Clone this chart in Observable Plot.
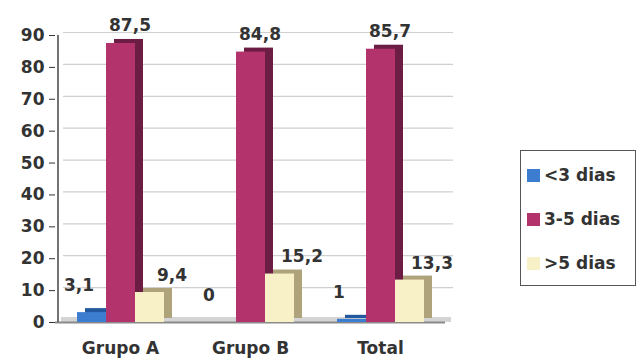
<!DOCTYPE html>
<html>
<head>
<meta charset="utf-8">
<script src="https://cdn.jsdelivr.net/npm/d3@7"></script>
<script src="https://cdn.jsdelivr.net/npm/@observablehq/plot@0.6"></script>
<style>
  body { margin: 0; background: #fff; }
  #wrap { position: relative; width: 638px; height: 362px; font-family: "DejaVu Sans", sans-serif; }
  #legend { position: absolute; left: 520px; top: 150px; width: 116px; height: 136px; border: 1px solid #555; box-sizing: border-box; }
  .item { position: absolute; left: 6px; font-size: 17px; font-weight: bold; color: #333; white-space: nowrap; }
  .sw { display: inline-block; width: 13px; height: 13px; margin-right: 4px; vertical-align: -1px; }
</style>
</head>
<body>
<div id="wrap"><div id="chart"></div><div id="legend"></div></div>
<script>
const groups = ["Grupo A", "Grupo B", "Total"];
const series = ["<3 dias", "3-5 dias", ">5 dias"];
const valuesLt3 = [3.1, 0, 1];
const values3to5 = [87.5, 84.8, 85.7];
const valuesGt5 = [9.4, 15.2, 13.3];
const yTicks = [0, 10, 20, 30, 40, 50, 60, 70, 80, 90];

const frontColors = ["#3d7dd0", "#b3336d", "#f8f1c8"];
const sideColors = ["#24589e", "#6c1d43", "#aea37a"];
const labelDx = [-13, 9, 22];
const labelDy = [-27, -18, -17];

const seriesValues = [valuesLt3, values3to5, valuesGt5];
const data = [];
series.forEach((s, i) => groups.forEach((g, j) => data.push({group: g, series: s, value: seriesValues[i][j], si: i})));
const fmt = d => String(d).replace(".", ",");
const axisData = [{group: groups[0], series: series[0], top: 90}];

const marks = [
  Plot.ruleY(yTicks.slice(1), {stroke: "#cfcfcf", strokeWidth: 1.2, dx: 8, dy: -3}),
  Plot.ruleY([0], {stroke: "#d4d4d4", strokeWidth: 5, dx: 6, dy: -3}),
  Plot.ruleY([0], {stroke: "#8a8a8a", strokeWidth: 2}),
  Plot.ruleX(axisData, {fx: "group", x: "series", y1: () => 0, y2: "top", dx: -34, stroke: "#444", strokeWidth: 1.5})
];
series.forEach((s, i) => {
  const d = data.filter(r => r.series === s);
  marks.push(Plot.rectY(d, {fx: "group", x: "series", y: "value", fill: sideColors[i], dx: 8, dy: -4}));
  marks.push(Plot.rectY(d, {fx: "group", x: "series", y: "value", fill: frontColors[i]}));
});
series.forEach((s, i) => {
  const d = data.filter(r => r.series === s);
  marks.push(Plot.text(d, {fx: "group", x: "series", y: "value", text: r => fmt(r.value), dx: labelDx[i], dy: labelDy[i], fontSize: 17, fontWeight: "bold", fill: "#333"}));
});

const chart = Plot.plot({
  width: 510,
  height: 362,
  marginLeft: 55,
  marginRight: 65,
  marginTop: 35,
  marginBottom: 40,
  style: {fontFamily: "DejaVu Sans, sans-serif", fontSize: "17px", fontWeight: "bold", color: "#333", background: "transparent"},
  fx: {domain: groups, padding: 0, axis: "bottom", label: null, tickSize: 0, tickPadding: 19},
  x: {domain: series, axis: null, paddingInner: 0, paddingOuter: 0.74},
  y: {domain: [0, 90], ticks: yTicks, tickSize: 6, tickPadding: 5, label: null},
  marks
});
document.getElementById("chart").appendChild(chart);

const legend = document.getElementById("legend");
series.forEach((s, i) => {
  const el = document.createElement("div");
  el.className = "item";
  el.style.top = (14 + i * 44) + "px";
  el.innerHTML = `<span class="sw" style="background:${frontColors[i]}"></span>`;
  el.appendChild(document.createTextNode(s));
  legend.appendChild(el);
});
</script>
</body>
</html>
